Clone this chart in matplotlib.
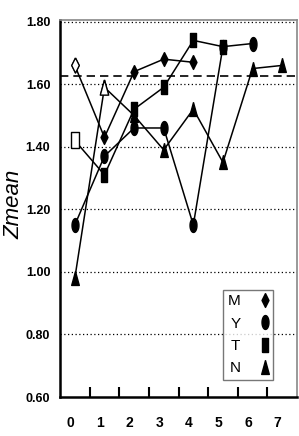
import numpy as np
import matplotlib
matplotlib.use("Agg")
import matplotlib.pyplot as plt
from matplotlib.path import Path
from matplotlib.lines import Line2D

# data
x_labels = ["0", "1", "2", "3", "4", "5", "6", "7"]
x_M = [0, 1, 2, 3, 4]
z_M = [1.66, 1.43, 1.64, 1.68, 1.67]
x_Y = [0, 1, 2, 3, 4, 5, 6]
z_Y = [1.15, 1.37, 1.46, 1.46, 1.15, 1.72, 1.73]
x_T = [0, 1, 2, 3, 4, 5]
z_T = [1.42, 1.31, 1.52, 1.59, 1.74, 1.72]
x_N = [0, 1, 2, 3, 4, 5, 6, 7]
z_N = [0.98, 1.59, 1.50, 1.39, 1.52, 1.35, 1.65, 1.66]
open_idx = {"M": 0, "T": 0, "N": 1}   # points drawn with hollow markers
ref_level = 1.625
y_levels = [0.60, 0.80, 1.00, 1.20, 1.40, 1.60, 1.80]

tick_font = "Liberation Sans"

# tall, narrow markers like in the scanned figure
t = np.linspace(0, 2 * np.pi, 40)
mk = {
    "M": Path([(0, 1), (0.5, 0), (0, -1), (-0.5, 0), (0, 1)]),
    "Y": Path(np.column_stack([0.5 * np.cos(t), np.sin(t)])),
    "T": Path([(-0.5, -1), (0.5, -1), (0.5, 1), (-0.5, 1), (-0.5, -1)]),
    "N": Path([(0, 1), (0.55, -1), (-0.55, -1), (0, 1)]),
}
ms = 10

fig = plt.figure(figsize=(2.99, 4.36), dpi=100)
ax = fig.add_axes([0.2007, 0.0894, 0.7926, 0.8646])

for y in y_levels[1:]:
    ax.axhline(y, color="black", lw=0.9, ls=(0, (1, 2)), zorder=1)
ax.axhline(ref_level, color="black", lw=1.2, ls=(0, (5, 3)), zorder=1)

series = [("M", x_M, z_M), ("Y", x_Y, z_Y), ("T", x_T, z_T), ("N", x_N, z_N)]
for name, xs, zs in series:
    ax.plot(xs, zs, color="black", lw=1.1, marker=mk[name], ms=ms,
            mfc="black", mec="black", zorder=3)
    if name in open_idx:
        i = open_idx[name]
        ax.plot(xs[i], zs[i], ls="none", marker=mk[name], ms=ms + 1,
                mfc="white", mec="black", mew=1.0, zorder=4)

ax.set_xlim(-0.5, 7.5)
ax.set_ylim(0.60, 1.805)

ax.set_xticks(np.arange(len(x_labels)) - 0.15)
ax.set_xticklabels(x_labels, fontsize=10, fontweight="bold", family=tick_font)
ax.set_xticks(np.arange(len(x_labels) - 1) + 0.5, minor=True)
ax.tick_params(axis="x", which="major", length=0, pad=14)
ax.tick_params(axis="x", which="minor", direction="in", length=7, width=1.5)
ax.set_yticks(y_levels)
ax.set_yticklabels(["%.2f" % v for v in y_levels],
                   fontsize=9, fontweight="bold", family=tick_font)
ax.tick_params(axis="y", length=0, pad=7)

for s in ["left", "bottom"]:
    ax.spines[s].set_linewidth(1.8)
for s in ["top", "right"]:
    ax.spines[s].set_color("#888888")
    ax.spines[s].set_linewidth(1.2)

ax.set_ylabel("Zmean", fontsize=16, fontstyle="italic", family="Liberation Sans")
ax.yaxis.set_label_coords(-0.148, 0.51)

handles = [Line2D([], [], ls="none", marker=mk[n], ms=ms, mfc="black", mec="black")
           for n in ["M", "Y", "T", "N"]]
leg = ax.legend(handles, ["M", "Y", "T", "N"], markerfirst=False,
                loc="lower left", bbox_to_anchor=(0.688, 0.045, 0.211, 0.268),
                mode="expand", prop={"family": "Liberation Sans", "size": 11},
                frameon=True, fancybox=False, handlelength=0.8, handletextpad=1.2,
                labelspacing=0.55, borderpad=0.3, borderaxespad=0)
leg.get_frame().set_edgecolor("#555555")
leg.get_frame().set_linewidth(1.0)
for txt in leg.get_texts():
    txt.set_ha("center")

fig.savefig("out.png", dpi=100)
